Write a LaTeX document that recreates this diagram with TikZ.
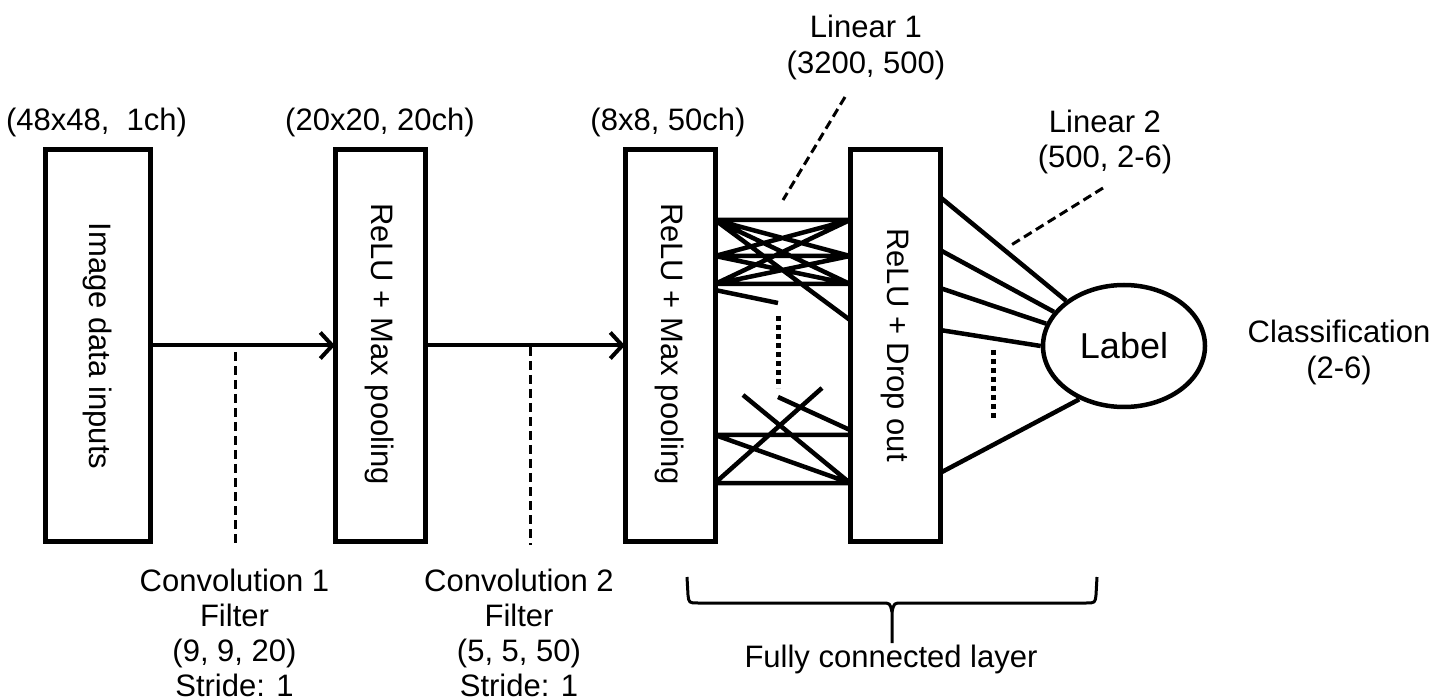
\documentclass[tikz,border=0pt]{standalone}
\usepackage{fontspec}
\setmainfont{Liberation Sans}
\usetikzlibrary{arrows.meta,shapes.geometric}
\begin{document}
\begin{tikzpicture}[x=1pt,y=1pt,
  box/.style={draw, line width=5pt, minimum width=90pt, minimum height=391pt, inner sep=0pt, outer sep=0pt},
  boxtxt/.style={rotate=-90, font=\fontsize{31}{36}\selectfont, inner sep=0pt},
  lbl/.style={font=\fontsize{31}{35}\selectfont, align=center, anchor=base, inner sep=0pt},
  conn/.style={line width=4.5pt},
  flow/.style={line width=4pt, -{Straight Barb[length=12pt,width=26pt]}},
  leader/.style={line width=3pt, dash pattern=on 9pt off 5pt},
  dots/.style={line width=5pt, dash pattern=on 5pt off 4pt},
  bracestyle/.style={line width=3pt, line join=round}
]
\useasboundingbox (0,0) rectangle (1449,-700);

% boxes
\node[box, minimum width=105pt] (b1) at (97.5,-345.5) {};
\node[box] (b2) at (380,-345.5) {};
\node[box] (b3) at (670,-345.5) {};
\node[box] (b4) at (895,-345.5) {};
\node[boxtxt] (t1) at (97.5,-346) {Image data inputs};
\node[boxtxt] (t2) at (380,-344) {ReLU + Max pooling};
\node[boxtxt] (t3) at (670,-344) {ReLU + Max pooling};
\node[boxtxt] (t4) at (895,-345) {ReLU + Drop out};

% output ellipse
\node[draw, ellipse, line width=4.5pt, minimum width=162pt, minimum height=122pt, inner sep=0pt,
      font=\fontsize{36}{40}\selectfont] (lbl) at (1124,-346) {Label};

% flow arrows
\draw[flow] (b1.east) -- (b2.west);
\draw[flow] (b2.east) -- (b3.west);

% leader lines
\coordinate (cv1a) at (235,-352); \coordinate (cv1b) at (235,-547);
\coordinate (cv2a) at (530,-347); \coordinate (cv2b) at (530,-545);
\coordinate (l1a) at (845,-97);   \coordinate (l1b) at (783,-200);
\coordinate (l2a) at (1103,-188); \coordinate (l2b) at (1008,-247);
\draw[leader] (cv1a) -- (cv1b);
\draw[leader] (cv2a) -- (cv2b);
\draw[leader] (l1a) -- (l1b);
\draw[leader] (l2a) -- (l2b);

% fully connected lines between b3 and b4
\coordinate (a1) at (715,-220); \coordinate (a2) at (715,-256); \coordinate (a3) at (715,-284);
\coordinate (ap) at (715,-290); \coordinate (pe) at (778,-303);
\coordinate (r1) at (850,-220); \coordinate (r2) at (850,-256); \coordinate (r3) at (850,-284);
\coordinate (r4) at (850,-320);
\draw[conn] (a1) -- (r1) (a2) -- (r2) (a3) -- (r3)
            (a1) -- (r2) (a1) -- (r3) (a1) -- (r4)
            (a2) -- (r1) (a2) -- (r3)
            (a3) -- (r1) (a3) -- (r2)
            (ap) -- (pe);
\coordinate (c1) at (715,-435); \coordinate (c2) at (715,-483);
\coordinate (d1) at (850,-435); \coordinate (d2) at (850,-483); \coordinate (d3) at (850,-430);
\coordinate (e1) at (822,-388); \coordinate (f1) at (743,-395); \coordinate (f2) at (778,-397);
\draw[conn] (c1) -- (d1) (c2) -- (d2) (c2) -- (e1) (f1) -- (d2) (c1) -- (d2) (f2) -- (d3);
\coordinate (g1) at (778,-316); \coordinate (g2) at (778,-388);
\draw[dots] (g1) -- (g2);

% lines from b4 to the label ellipse
\coordinate (s1) at (940,-197); \coordinate (s2) at (940,-250); \coordinate (s3) at (940,-288);
\coordinate (s4) at (940,-330); \coordinate (s5) at (940,-473);
\draw[conn] (s1) -- (lbl.142) (s2) -- (lbl.154) (s3) -- (lbl.164) (s4) -- (lbl.180) (s5) -- (lbl.230);
\coordinate (h1) at (993,-350); \coordinate (h2) at (993,-420);
\draw[dots] (h1) -- (h2);

% brace
\coordinate (brL) at (687,-577); \coordinate (brR) at (1097,-577); \coordinate (brT) at (892,-643);
\coordinate (brM) at (892,-612);
\draw[bracestyle] (brL) -- (688,-595) .. controls (689,-603) .. (698,-603) -- (882,-603)
   .. controls (890,-603) .. (brM) -- (brT);
\draw[bracestyle] (brR) -- (1096,-595) .. controls (1095,-603) .. (1086,-603) -- (902,-603)
   .. controls (894,-603) .. (brM);

% labels (multi-line nodes are anchored at the baseline of their last line)
\node[lbl] (d1t) at (96.5,-131) {(48x48,\ \ 1ch)};
\node[lbl] (d2t) at (380,-131) {(20x20, 20ch)};
\node[lbl] (d3t) at (668,-131) {(8x8, 50ch)};
\node[lbl, font=\fontsize{31}{36}\selectfont] (lin1) at (866,-74) {Linear 1\\(3200, 500)};
\node[lbl] (lin2) at (1105,-168) {Linear 2\\(500, 2-6)};
\node[lbl, font=\fontsize{31}{36}\selectfont] (cls) at (1339,-379) {Classification\\(2-6)};
\node[lbl] (conv1) at (234.5,-696) {Convolution 1\\Filter\\(9, 9, 20)\\Stride: 1};
\node[lbl] (conv2) at (519,-696) {Convolution 2\\Filter\\(5, 5, 50)\\Stride: 1};
\node[lbl] (fcl) at (891,-667) {Fully connected layer};
\end{tikzpicture}
\end{document}
